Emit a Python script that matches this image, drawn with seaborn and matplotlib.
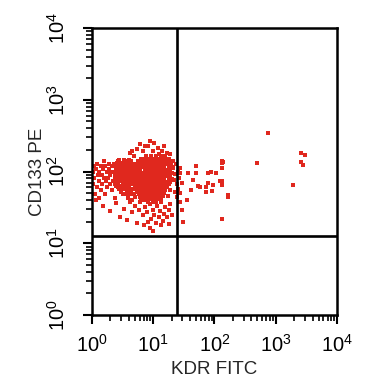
import numpy as np
import pandas as pd
import matplotlib
matplotlib.use("Agg")
import matplotlib.pyplot as plt
from matplotlib.ticker import LogLocator, NullFormatter
import seaborn as sns

# events, in hundredths of a decade (log10 * 100): (KDR, CD133)
core_events = [
    (88, 222), (97, 222), (104, 222), (112, 222), (120, 222),
    (80, 218), (86, 218), (93, 218), (99, 218), (106, 218), (113, 218), (119, 218), (126, 218),
    (75, 214), (82, 214), (88, 214), (95, 214), (101, 214), (108, 214), (114, 214), (121, 214), (128, 214),
    (72, 210), (78, 210), (85, 210), (91, 210), (97, 210), (103, 210), (110, 210), (116, 210), (123, 210), (129, 210),
    (70, 206), (76, 206), (83, 206), (89, 206), (94, 206), (100, 206), (106, 206), (112, 206), (118, 206), (125, 206), (131, 206),
    (73, 202), (79, 202), (86, 202), (92, 202), (98, 202), (104, 202), (109, 202), (115, 202), (121, 202), (127, 202),
    (71, 198), (77, 198), (82, 198), (88, 198), (95, 198), (101, 198), (107, 198), (113, 198), (119, 198), (124, 198), (130, 198),
    (74, 194), (80, 194), (86, 194), (91, 194), (97, 194), (103, 194), (110, 194), (116, 194), (122, 194), (128, 194),
    (72, 190), (78, 190), (84, 190), (89, 190), (95, 190), (100, 190), (106, 190), (112, 190), (118, 190), (125, 190), (131, 190),
    (75, 186), (81, 186), (87, 186), (93, 186), (99, 186), (104, 186), (110, 186), (115, 186), (121, 186), (127, 186),
    (73, 182), (79, 182), (85, 182), (91, 182), (96, 182), (102, 182), (108, 182), (114, 182), (120, 182), (126, 182),
    (76, 178), (82, 178), (88, 178), (94, 178), (100, 178), (106, 178), (111, 178), (117, 178), (123, 178),
    (78, 174), (84, 174), (90, 174), (96, 174), (102, 174), (108, 174), (114, 174), (120, 174), (127, 174),
    (81, 170), (87, 170), (93, 170), (99, 170), (105, 170), (111, 170), (118, 170),
    (84, 166), (90, 166), (97, 166), (103, 166), (109, 166), (116, 166), (124, 166),
    (88, 162), (95, 162), (101, 162), (107, 162), (113, 162),
    (92, 158), (99, 158), (105, 158), (112, 158),
]

core_left = [
    (44, 216), (52, 216), (60, 216),
    (41, 212), (47, 212), (54, 212),
    (39, 208), (46, 208), (62, 208),
    (42, 204), (50, 204), (58, 204), (68, 204),
    (38, 200), (45, 200), (55, 200), (64, 200),
    (41, 196), (48, 196), (59, 196), (70, 196),
    (37, 192), (44, 192), (53, 192), (62, 192),
    (40, 188), (47, 188), (56, 188), (69, 188),
    (43, 184), (50, 184), (61, 184), (68, 184),
    (39, 180), (46, 180), (55, 180), (70, 180),
    (44, 176), (52, 176), (59, 176), (67, 176), (73, 176),
    (48, 172), (57, 172), (64, 172), (74, 172),
    (51, 168), (62, 168), (76, 168), (80, 168),
    (58, 164), (70, 164), (78, 164), (83, 164),
    (66, 160), (80, 160), (86, 160),
]

upper_fringe = [
    (62, 226), (68, 222), (73, 231), (84, 229), (92, 236), (99, 228), (108, 233),
    (115, 229), (122, 226), (128, 224), (78, 238), (101, 240), (118, 236),
    (87, 235), (65, 228), (95, 243), (110, 225),
]

left_wing = [
    (20, 215), (42, 215), (55, 215), (64, 215),
    (8, 211), (28, 211), (36, 211), (49, 211), (60, 211), (67, 211),
    (3, 207), (14, 207), (22, 207), (33, 207), (45, 207), (52, 207), (58, 207), (66, 207),
    (6, 203), (18, 203), (27, 203), (39, 203), (47, 203), (56, 203), (63, 203),
    (2, 199), (11, 199), (24, 199), (31, 199), (43, 199), (51, 199), (60, 199), (68, 199),
    (9, 195), (16, 195), (29, 195), (37, 195), (46, 195), (54, 195), (65, 195),
    (4, 191), (20, 191), (26, 191), (40, 191), (49, 191), (58, 191), (67, 191),
    (12, 187), (23, 187), (34, 187), (44, 187), (53, 187), (62, 187),
    (2, 183), (17, 183), (30, 183), (38, 183), (57, 183), (66, 183),
    (8, 179), (25, 179), (42, 179), (51, 179), (60, 179),
    (14, 174), (33, 174), (47, 174), (63, 174),
    (5, 169), (21, 169), (55, 169), (68, 169),
    (11, 163), (37, 163), (59, 163),
]

lower_tail = [
    (18, 152), (40, 156), (52, 148), (62, 158), (7, 160), (29, 145), (45, 137),
    (57, 133), (66, 143), (71, 152), (76, 146), (79, 158), (83, 139), (86, 150),
    (90, 143), (94, 155), (96, 134), (99, 147), (102, 140), (104, 128), (106, 152),
    (109, 136), (111, 145), (113, 157), (116, 131), (118, 141), (120, 150),
    (122, 137), (125, 146), (128, 155), (130, 139), (95, 121), (100, 117),
    (112, 125), (91, 130), (126, 127), (74, 128), (85, 126),
]

gate_edge = [
    (133, 205), (135, 196), (137, 210), (134, 188), (138, 182), (136, 172),
    (140, 200), (142, 191), (133, 215), (141, 176), (144, 205), (139, 164), (143, 158),
    (144, 198), (147, 184), (144, 170),
]

right_scatter = [
    (170, 208), (157, 198), (170, 198), (189, 198), (194, 199), (202, 198),
    (212, 215), (212, 212), (212, 205), (165, 188), (189, 184), (209, 187),
    (212, 187), (173, 180), (176, 178), (186, 178), (198, 181), (212, 181),
    (162, 174), (186, 171), (196, 173), (222, 167), (222, 164), (155, 160),
    (147, 146), (212, 134), (149, 130), (214, 213),
]

far_right = [
    (287, 254), (269, 212), (341, 226), (348, 223), (341, 213), (344, 209), (328, 181),
]

gate_kdr = 24.5     # vertical quadrant line
gate_cd133 = 12.6   # horizontal quadrant line
decades = [1, 10, 100, 1000, 10000]

groups = [core_events, core_left, upper_fringe, left_wing, lower_tail,
          gate_edge, right_scatter, far_right]
pts = np.array([p for g in groups for p in g], dtype=float)
df = pd.DataFrame({"KDR FITC": 10 ** (pts[:, 0] / 100), "CD133 PE": 10 ** (pts[:, 1] / 100)})

sns.set_style("ticks")
plt.rcParams["font.family"] = ["Liberation Sans", "DejaVu Sans"]
plt.rcParams["mathtext.fontset"] = "custom"
plt.rcParams["mathtext.rm"] = "Liberation Sans"

fig = plt.figure(figsize=(3.69, 3.81), dpi=100)
ax = fig.add_axes([0.2493, 0.1732, 0.664, 0.7533])

sns.scatterplot(data=df, x="KDR FITC", y="CD133 PE", ax=ax, marker="s", s=7,
                color="#e0281e", linewidth=0, legend=False)

ax.set_xscale("log")
ax.set_yscale("log")
ax.set_xlim(1, 1e4)
ax.set_ylim(1, 1e4)
for axis in (ax.xaxis, ax.yaxis):
    axis.set_major_locator(LogLocator(base=10, numticks=10))
    axis.set_minor_locator(LogLocator(base=10, subs=np.arange(2, 10), numticks=40))
    axis.set_minor_formatter(NullFormatter())
ax.set_xticks(decades)
ax.set_yticks(decades)
ax.set_xticklabels([rf"$\mathdefault{{10^{{{i}}}}}$" for i in range(5)])
ax.set_yticklabels([rf"$\mathdefault{{10^{{{i}}}}}$" for i in range(5)],
                   rotation=90, va="center")

ax.axvline(gate_kdr, color="black", lw=1.9)
ax.axhline(gate_cd133, color="black", lw=1.9)

for s in ax.spines.values():
    s.set_linewidth(1.8)
    s.set_color("black")

ax.tick_params(which="major", length=6.5, width=1.5, labelsize=14.5, colors="black")
ax.tick_params(axis="x", which="major", pad=7)
ax.tick_params(axis="y", which="major", pad=10)
ax.tick_params(which="minor", length=4, width=1.2, colors="black")

ax.set_xlabel("KDR FITC", fontsize=13.5, labelpad=4)
ax.set_ylabel("CD133 PE", fontsize=13.5, labelpad=1)

fig.savefig("out.png", dpi=100)
